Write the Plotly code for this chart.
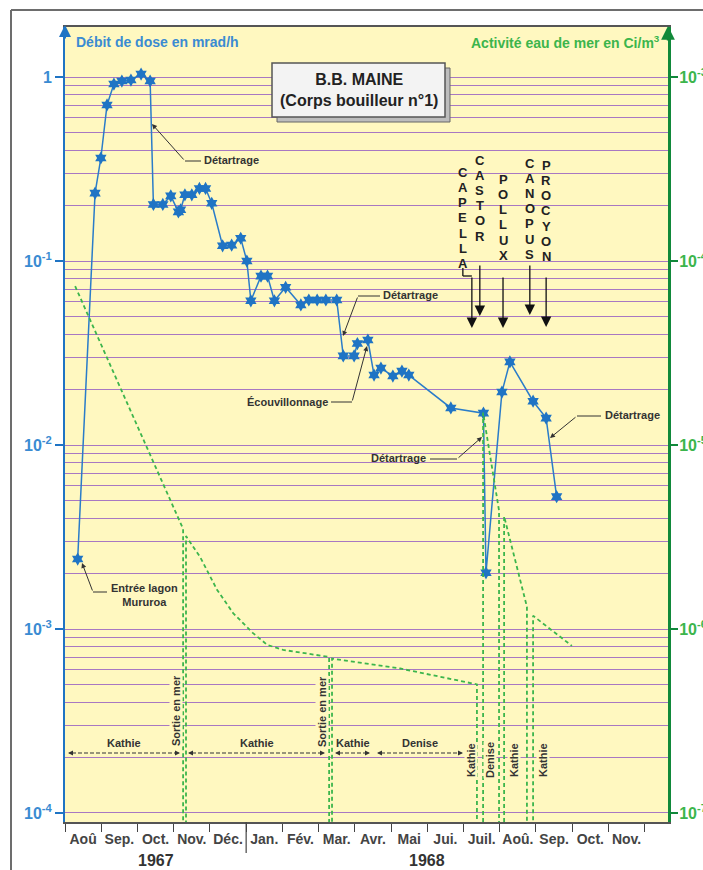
import plotly.graph_objects as go

# ---------------------------------------------------------------- data
# x positions are months counted from 1 August 1967
MONTH_LABELS = ["Aoû", "Sep.", "Oct.", "Nov.", "Déc.", "Jan.", "Fév.", "Mar.",
                "Avr.", "Mai", "Jui.", "Juil.", "Aoû.", "Sep.", "Oct.", "Nov."]
YEAR_LABELS = ["1967", "1968"]
YEAR_CENTRES = [2.5, 10.0]

# dose rate measured on the boiler body (mrad/h)
dose_month = [0.35, 0.83, 0.99, 1.16, 1.35, 1.57, 1.82, 2.10, 2.35, 2.44,
              2.70, 2.92, 3.13, 3.19, 3.31, 3.50, 3.71, 3.88, 4.05, 4.35,
              4.60, 4.85, 5.02, 5.13, 5.41, 5.59, 5.78, 6.09, 6.51, 6.73,
              6.96, 7.20, 7.50, 7.68, 7.98, 8.07, 8.36, 8.53, 8.72, 9.05,
              9.30, 9.49, 10.65, 11.55, 11.62, 12.06, 12.28, 12.92, 13.28, 13.57]
dose_rate = [0.0024, 0.234, 0.363, 0.705, 0.916, 0.951, 0.963, 1.038, 0.951, 0.203,
             0.203, 0.226, 0.185, 0.190, 0.229, 0.229, 0.248, 0.248, 0.206, 0.121,
             0.122, 0.133, 0.100, 0.0608, 0.0828, 0.0828, 0.0608, 0.0720, 0.0577, 0.0614,
             0.0614, 0.0614, 0.0614, 0.0305, 0.0305, 0.0356, 0.0372, 0.0240, 0.0262, 0.0237,
             0.0252, 0.0240, 0.0159, 0.0149, 0.00202, 0.0194, 0.0283, 0.0173, 0.0140, 0.00524]

# sea-water activity in the lagoon (Ci/m3); OFF marks periods at sea (below scale)
OFF = 1e-10
sea_month = [0.28, 2.26, 3.26, 3.26, 3.34, 3.34, 3.73, 4.20, 4.64, 5.19,
             5.58, 6.02, 7.29, 7.29, 7.37, 7.37, 9.25, 11.37, 11.37, 11.54,
             11.54, 11.98, 11.98, 12.12, 12.12, 12.75, 12.75, 12.92, 12.92, 13.99]
sea_activity = [7.3e-5, 9.6e-6, 3.5e-6, OFF, OFF, 3.2e-6, 2.46e-6, 1.63e-6, 1.22e-6, 9.5e-7,
                8.2e-7, 7.7e-7, 7.05e-7, OFF, OFF, 6.9e-7, 6.1e-7, 5.0e-7, OFF, OFF,
                1.5e-5, 4.4e-6, OFF, OFF, 4.1e-6, 1.32e-6, OFF, OFF, 1.18e-6, 8.1e-7]

# nuclear shots of the 1968 campaign
SHOT_NAMES = ["CAPELLA", "CASTOR", "POLLUX", "CANOPUS", "PROCYON"]
SHOT_MONTH = [11.23, 11.45, 12.09, 12.83, 13.28]

LEFT_TICKS = [1e-4, 1e-3, 1e-2, 1e-1, 1]
LEFT_TEXT = ["10<sup>-4</sup>", "10<sup>-3</sup>", "10<sup>-2</sup>", "10<sup>-1</sup>", "1"]
RIGHT_TICKS = [1e-7, 1e-6, 1e-5, 1e-4, 1e-3]
RIGHT_TEXT = ["10<sup>-7</sup>", "10<sup>-6</sup>", "10<sup>-5</sup>", "10<sup>-4</sup>", "10<sup>-3</sup>"]

# ---------------------------------------------------------------- styling
W, H = 703, 870
L, R, T, B = 65, 668, 27, 822
MONTH_PX = 36.23
YELLOW = "#fff8c0"
BLUE = "#1f74c4"
BLUE_TXT = "#3a8bd2"
GREEN = "#3cb54c"
GREEN_AX = "#11893a"
GRID = "#a878c2"
INK = "#333333"
FONT = "Liberation Sans, Arial, sans-serif"

X_MAX = (R - L) / MONTH_PX
Y_RANGE = [-4.049, 0.272]
Y2_RANGE = [Y_RANGE[0] - 3, Y_RANGE[1] - 3]


def px(x):
    return (x - L) / (R - L)


def py(y):
    return (B - y) / (B - T)


shapes = []
annotations = []


def seg(x0, y0, x1, y1, color=INK, width=1, dash=None, xref="paper"):
    line = dict(color=color, width=width)
    if dash:
        line["dash"] = dash
    shapes.append(dict(type="line", xref=xref, yref="paper",
                       x0=x0, y0=y0, x1=x1, y1=y1, line=line, layer="above"))


def arrow(tip, tail, head=2, size=1.0, width=1.0, color=INK):
    annotations.append(dict(x=px(tip[0]), y=py(tip[1]), xref="paper", yref="paper",
                            ax=tail[0] - tip[0], ay=tail[1] - tip[1],
                            axref="pixel", ayref="pixel", text="", showarrow=True,
                            arrowhead=head, arrowsize=size, arrowwidth=width,
                            arrowcolor=color, standoff=0, startstandoff=0))


def label(text, x, y, size=11, xanchor="center", angle=0, bg=None,
          color=INK, bold=True, xref="paper", xshift=0):
    a = dict(text=f"<b>{text}</b>" if bold else text,
             x=px(x) if xref == "paper" else x, y=py(y),
             xref=xref, yref="paper", xanchor=xanchor, yanchor="middle",
             showarrow=False, textangle=angle, xshift=xshift,
             font=dict(family=FONT, size=size, color=color), borderpad=0)
    if bg:
        a["bgcolor"] = bg
    annotations.append(a)


# ---------------------------------------------------------------- traces
fig = go.Figure()

fig.add_trace(go.Scatter(
    x=sea_month, y=sea_activity, yaxis="y2", mode="lines",
    line=dict(color=GREEN, width=1.8, dash="4px,3px"),
    hoverinfo="skip", showlegend=False))

fig.add_trace(go.Scatter(
    x=dose_month, y=dose_rate, mode="lines+markers",
    line=dict(color="#2a7cc9", width=1.5),
    marker=dict(symbol="hexagram", size=10, color=BLUE, line=dict(width=0)),
    showlegend=False))

# ---------------------------------------------------------------- annotations
# axis titles
label("Débit de dose en mrad/h", 75, 42, size=14, xanchor="left", color=BLUE_TXT)
label("Activité eau de mer en Ci/m<sup>3</sup>", 661, 42, size=14,
      xanchor="right", color=GREEN)

# arrow heads at the top of both vertical axes
arrow((65, 25), (65, 40), head=2, size=1.2, width=2, color=BLUE)
arrow((668, 26), (668, 42), head=2, size=1.1, width=2.5, color=GREEN_AX)

# title box with drop shadow
shapes.append(dict(type="rect", xref="paper", yref="paper",
                   x0=px(277), x1=px(450), y0=py(122), y1=py(68),
                   fillcolor="#bdbdbd", line=dict(color="#666", width=1), layer="above"))
shapes.append(dict(type="rect", xref="paper", yref="paper",
                   x0=px(272), x1=px(445), y0=py(117), y1=py(63),
                   fillcolor="#f3f3f3", line=dict(color="#555", width=1.5), layer="above"))
label("B.B. MAINE<br>(Corps bouilleur n°1)", 358.5, 90.5, size=16, color="#222")

# callouts with elbowed leader lines
label("Détartrage", 203, 160, xanchor="left")
seg(px(185), py(161), px(201), py(161))
arrow((152, 124), (185, 161))

label("Détartrage", 382, 295, xanchor="left")
seg(px(358), py(296), px(380), py(296))
arrow((343, 336), (358, 296))

label("Écouvillonnage", 329, 402, xanchor="right")
seg(px(331), py(402), px(352), py(402))
arrow((367, 346), (352, 402))

label("Détartrage", 427, 458, xanchor="right")
seg(px(430), py(459), px(457), py(459))
arrow((482, 437), (457, 459))

label("Détartrage", 604, 415, xanchor="left")
seg(px(577), py(416), px(601), py(416))
arrow((550, 438), (577, 416))

label("Entrée lagon<br>Mururoa", 144, 595, size=11)
seg(px(93), py(592), px(107), py(592))
arrow((82, 563), (93, 592))

# shot names written vertically, with arrows pointing down to the shot date
SHOT_TOP = [173, 161, 180, 164, 166]
SHOT_ARROW = [(276, 328), (264, 316), (276, 328), (264, 315), (276, 327)]
for i, (name, m) in enumerate(zip(SHOT_NAMES, SHOT_MONTH)):
    shift = -9 if i == 0 else 0
    for k, ch in enumerate(name):
        label(ch, m, SHOT_TOP[i] + 15 * k, size=13, xref="x", xshift=shift, color="#222")
    y0, y1 = SHOT_ARROW[i]
    xa = L + m * MONTH_PX
    arrow((xa, y1), (xa, y0), head=2, size=1.6, width=1.3, color="#111")
# CAPELLA leader has an elbow
xa = L + SHOT_MONTH[0] * MONTH_PX
seg(px(xa - 9), py(268), px(xa - 9), py(276), color="#111", width=1.3)
seg(px(xa - 9), py(276), px(xa), py(276), color="#111", width=1.3)

# lagoon / sea periods along the bottom
ROW_Y = 753
PERIODS = [("Kathie", 68, 180), ("Kathie", 188, 325), ("Kathie", 335, 370), ("Denise", 377, 463)]
for name, x0, x1 in PERIODS:
    seg(px(x0 + 4), py(ROW_Y), px(x1 - 4), py(ROW_Y), color=INK, width=1.2, dash="4px,2px")
    arrow((x0, ROW_Y), (x0 + 6, ROW_Y), head=2, size=1.0, width=1.0)
    arrow((x1, ROW_Y), (x1 - 6, ROW_Y), head=2, size=1.0, width=1.0)
    label(name, (x0 + x1) / 2, 743, size=11)

ROTATED = [("Sortie en mer", 176, 711), ("Sortie en mer", 322, 712),
           ("Kathie", 471, 760), ("Denise", 490, 760), ("Kathie", 514, 760), ("Kathie", 543, 760)]
for text, x, y in ROTATED:
    label(text, x, y, size=11, angle=-90, bg=YELLOW)

# years under the month axis, with the year separator tick
for yr, c in zip(YEAR_LABELS, YEAR_CENTRES):
    annotations.append(dict(text=f"<b>{yr}</b>", x=c, y=py(860), xref="x", yref="paper",
                            xanchor="center", yanchor="middle", showarrow=False,
                            font=dict(family=FONT, size=16, color="#333")))
seg(5, 0, 5, py(853), color="#444", width=1.2, xref="x")

# outer frame of the figure
seg(px(11), py(10), px(11), py(900), color="#6d6d6d", width=2)
seg(px(11), py(10), px(720), py(10), color="#6d6d6d", width=2)

# ---------------------------------------------------------------- axes
grid_vals = [k * 10.0 ** n for n in range(-4, 0) for k in range(1, 10)] + [1.0]

fig.update_layout(
    width=W, height=H,
    margin=dict(l=L, r=W - R, t=T, b=H - B, autoexpand=False),
    paper_bgcolor="white", plot_bgcolor=YELLOW,
    font=dict(family=FONT),
    showlegend=False,
    shapes=shapes, annotations=annotations,
    xaxis=dict(
        range=[0, X_MAX], tickmode="array", automargin=False,
        tickvals=[i + 0.5 for i in range(len(MONTH_LABELS))],
        ticktext=[f"<b>{m}</b>" for m in MONTH_LABELS],
        ticks="", ticklabelstandoff=3,
        tickfont=dict(family=FONT, size=14, color="#444"),
        showgrid=False, zeroline=False,
        showline=True, mirror=True, linecolor="#555", linewidth=1.5,
        minor=dict(tickmode="array", tickvals=list(range(17)), ticks="outside",
                   ticklen=8, tickwidth=1.2, tickcolor="#444", showgrid=False),
    ),
    yaxis=dict(
        type="log", range=Y_RANGE, tickmode="array", automargin=False,
        tickvals=LEFT_TICKS, ticktext=[f"<b>{t}</b>" for t in LEFT_TEXT],
        ticks="outside", ticklen=8, tickwidth=1.5, tickcolor=BLUE,
        tickfont=dict(family=FONT, size=16, color=BLUE_TXT),
        showline=True, linecolor=BLUE, linewidth=2,
        showgrid=True, gridcolor=GRID, gridwidth=1.3, zeroline=False,
        minor=dict(tickmode="array", tickvals=grid_vals, ticks="",
                   showgrid=True, gridcolor=GRID, gridwidth=1.3),
    ),
    yaxis2=dict(
        type="log", range=Y2_RANGE, overlaying="y", side="right", automargin=False,
        tickmode="array", tickvals=RIGHT_TICKS,
        ticktext=[f"<b>{t}</b>" for t in RIGHT_TEXT],
        ticks="outside", ticklen=7, tickwidth=1.5, tickcolor=GREEN_AX,
        ticklabelstandoff=-2,
        tickfont=dict(family=FONT, size=16, color=GREEN),
        showline=True, linecolor=GREEN_AX, linewidth=3,
        showgrid=False, zeroline=False,
    ),
)

fig.write_html("out.html")
